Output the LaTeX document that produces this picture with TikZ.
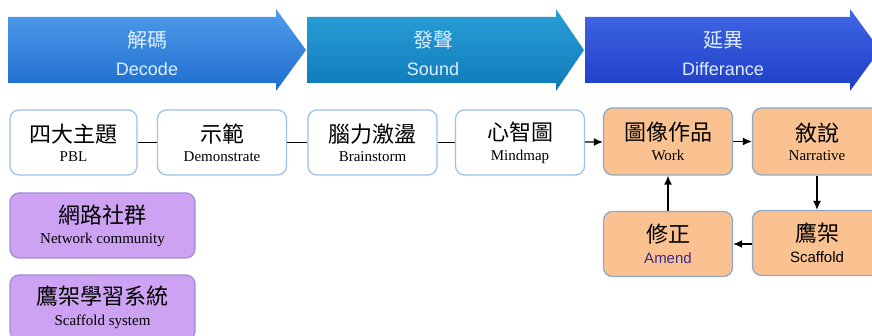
\documentclass[tikz,border=0pt]{standalone}
\usepackage{fontspec}
\setmainfont{Liberation Serif}
\newfontfamily\cjk{Noto Sans CJK TC}
\newfontfamily\headsf{Liberation Sans}
\usetikzlibrary{arrows.meta,positioning}

\definecolor{decodeTop}{HTML}{4F9CEA}
\definecolor{decodeBot}{HTML}{1E6CCD}
\definecolor{soundTop}{HTML}{2A9FD8}
\definecolor{soundBot}{HTML}{0E7AB8}
\definecolor{diffTop}{HTML}{4066E6}
\definecolor{diffBot}{HTML}{1F3EC6}
\definecolor{headText}{HTML}{DCEEFF}
\definecolor{stepBorder}{HTML}{9CC2E8}
\definecolor{workFill}{HTML}{FAC291}
\definecolor{workBorder}{HTML}{8FA9C6}
\definecolor{netFill}{HTML}{CDA2F2}
\definecolor{netBorder}{HTML}{A28ED6}
\definecolor{amendText}{HTML}{3B2B8C}

% two-line label: Chinese over English
\newcommand{\duo}[2]{{\cjk\fontsize{22}{24}\selectfont #1}\\[7pt]\fontsize{15}{17}\selectfont #2}

\begin{document}
\begin{tikzpicture}[x=1pt, y=-1pt,
    headlbl/.style={text=headText, align=center, font=\headsf\fontsize{18}{28}\selectfont},
    stepbox/.style={draw=stepBorder, fill=white, line width=1.3pt, rounded corners=9pt,
        minimum width=129pt, minimum height=65pt, align=center, inner sep=0pt},
    workbox/.style={stepbox, draw=workBorder, fill=workFill},
    netbox/.style={stepbox, draw=netBorder, fill=netFill, minimum width=185pt},
    link/.style={line width=1.3pt},
    flow/.style={line width=1.3pt, -{Latex[length=9pt,width=8pt]}}
]
    \useasboundingbox (0,0) rectangle (872,336);

    % Draw stage chevrons
    \shade[top color=decodeTop, bottom color=decodeBot]
        (8,17) -- (276,17) -- (276,9) -- (306,50) -- (276,91) -- (276,83) -- (8,83) -- cycle;
    \shade[top color=soundTop, bottom color=soundBot]
        (307,17) -- (556,17) -- (556,9) -- (584,50) -- (556,91) -- (556,83) -- (307,83) -- cycle;
    \shade[top color=diffTop, bottom color=diffBot]
        (585,17) -- (850,17) -- (850,9) -- (880,50) -- (850,91) -- (850,83) -- (585,83) -- cycle;

    \node[headlbl] (decode) at (147,53) {{\cjk\fontsize{20}{22}\selectfont 解碼}\\Decode};
    \node[headlbl] (sound) at (433,53) {{\cjk\fontsize{20}{22}\selectfont 發聲}\\Sound};
    \node[headlbl] (diff) at (723,53) {{\cjk\fontsize{20}{22}\selectfont 延異}\\Differance};

    % Activity boxes
    \node[stepbox, minimum width=127pt] (pbl) at (73.5,142.5) {\duo{四大主題}{PBL}};
    \node[stepbox] (demo) at (222,142.5) {\duo{示範}{Demonstrate}};
    \node[stepbox] (brain) at (372.5,142.5) {\duo{腦力激盪}{Brainstorm}};
    \node[stepbox] (mind) at (520,142.5) {\duo{心智圖}{Mindmap}};

    % Differance loop
    \node[workbox, minimum height=67pt] (work) at (668,141.5) {\duo{圖像作品}{Work}};
    \node[workbox, minimum height=67pt] (narr) at (817,141.5) {\duo{敘說}{Narrative}};
    \node[workbox] (scaf) at (817,243) {\duo{鷹架}{\headsf Scaffold}};
    \node[workbox] (amend) at (668,244) {\duo{修正}{\headsf\color{amendText}Amend}};

    % Support boxes
    \node[netbox] (net) at (102.5,225.5) {\duo{網路社群}{Network community}};
    \node[netbox] (sys) at (102.5,307.5) {\duo{鷹架學習系統}{Scaffold system}};

    % Connectors
    \draw[link] (pbl) -- (demo);
    \draw[link] (demo) -- (brain);
    \draw[link] (brain) -- (mind);
    \draw[flow] (mind) -- (work);
    \draw[flow] (work) -- (narr);
    \draw[flow] (narr) -- (scaf);
    \draw[flow] (scaf.west |- amend) -- (amend);
    \draw[flow] (amend) -- (work);
\end{tikzpicture}
\end{document}
